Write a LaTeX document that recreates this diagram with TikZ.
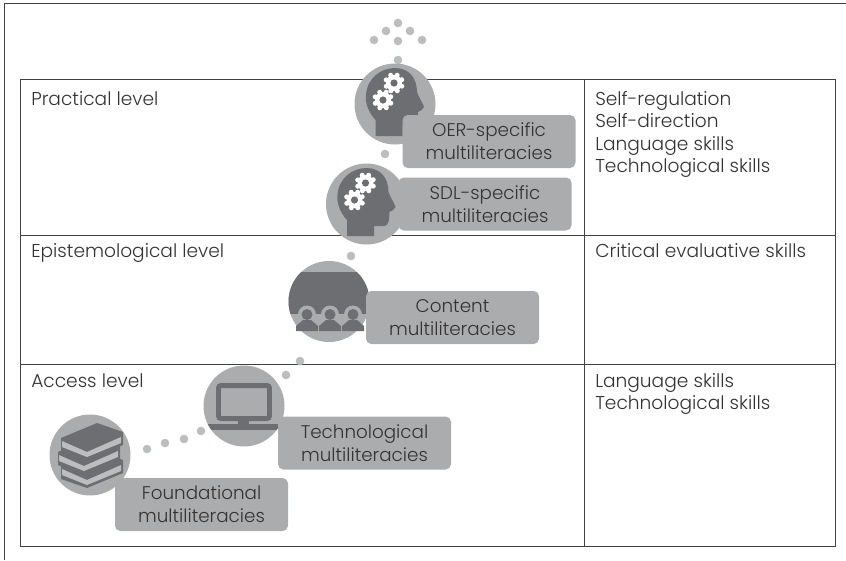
\documentclass[tikz,border=0pt]{standalone}
\usepackage{fontspec}
\setmainfont{Poppins}[UprightFont=* Light]
\definecolor{discgrey}{HTML}{ABACAE}
\definecolor{darkgrey}{HTML}{6D6E71}
\definecolor{dotgrey}{HTML}{BCBDBF}
\definecolor{rulegrey}{HTML}{404143}
\definecolor{textgrey}{HTML}{333333}
\newdimen\pxu
\pxu=0.02646cm
\tikzset{
  levelname/.style={anchor=north west,inner sep=0pt,font=\fontsize{14pt}{16.9pt}\selectfont,text=textgrey,align=left},
  badge/.style={fill=discgrey,rounded corners=4pt,inner sep=0pt,minimum width=173\pxu,minimum height=53\pxu,font=\fontsize{13.8pt}{17.2pt}\selectfont,text=textgrey,align=center},
  disc/.style={circle,fill=discgrey,minimum size=81\pxu,inner sep=0pt},
  dot/.style={circle,fill=dotgrey,minimum size=8.6\pxu,inner sep=0pt},
  tablerule/.style={rulegrey,line width=0.75pt},
}
\newcommand{\headicon}[2]{%
  \begin{scope}[shift={(#1,#2)}]
    \fill[darkgrey] (-19.5,32) -- (-19.5,16) .. controls (-27,8) and (-30,-2) .. (-29,-9)
      .. controls (-28,-26) and (-14,-36) .. (0,-36) .. controls (14,-36) and (22,-26) .. (22,-12)
      .. controls (24,-6) and (28,-1) .. (29,3) .. controls (28,6) and (25,7) .. (23,8)
      .. controls (23,12) and (23,22) .. (18,22) -- (7.5,22) -- (7.5,32) -- cycle;
    \foreach \cx/\cy in {-12/-4,-1/-21}{
      \foreach \ang in {0,45,...,315}{
        \fill[white] ({\cx+8.4*cos(\ang+22)},{\cy+8.4*sin(\ang+22)}) circle (2.5);
      }
      \fill[white] (\cx,\cy) circle (8);
      \fill[darkgrey] (\cx,\cy) circle (3.6);
    }
  \end{scope}}
\begin{document}
\begin{tikzpicture}[x=\pxu,y=-\pxu]
\useasboundingbox (0,0) rectangle (846,560);
\draw[tablerule] (846,3.7) -- (4.3,3.7) -- (4.3,560);
% table
\draw[tablerule] (20.3,79) rectangle (835,546.5);
\draw[tablerule] (20.3,235) -- (835,235);
\draw[tablerule] (20.3,364.3) -- (835,364.3);
\draw[tablerule] (584,79) -- (584,546.5);
\node[levelname] (practical) at (31,91) {Practical level};
\node[levelname] (epistemic) at (31,243.5) {Epistemological level};
\node[levelname] (access) at (31,373) {Access level};
\node[levelname] (skillsa) at (595,91) {Self-regulation\\Self-direction\\Language skills\\Technological skills};
\node[levelname] (skillsb) at (595,243.5) {Critical evaluative skills};
\node[levelname] (skillsc) at (595,373) {Language skills\\Technological skills};
% dots
\foreach \x/\y in {398/23,386/31,410/31,374/40,398/41,422/40,398/60,385/154,351/256,300/361,286/375,
  201/431,184/439,165/443,147/449}{
  \node[dot] at (\x,\y) {};
}
% discs
\node[disc] (booksdisc) at (90,455) {};
\node[disc] (monitordisc) at (244,406) {};
\node[disc] (peopledisc) at (329,301.5) {};
\node[disc] (sdldisc) at (366.5,204) {};
\node[disc] (oerdisc) at (395,104) {};
% books
\foreach \dx/\dy in {0/28,-3/14,0/0}{
  \begin{scope}[shift={(\dx,\dy)}]
    \fill[darkgrey] (61,438) -- (97,423) -- (123,432) -- (123,445) -- (87,460) -- (61,451) -- cycle;
    \fill[dotgrey] (62,441) -- (87,452) -- (121,437) -- (121,443) -- (87,457) -- (62,447) -- cycle;
  \end{scope}
}
% monitor
\draw[darkgrey,line width=3.75pt,rounded corners=2pt] (218.5,385.5) rectangle (269.5,418.5);
\fill[darkgrey] (238,420) rectangle (249,425);
\begin{scope}
  \clip (244,406) circle (40.5);
  \fill[darkgrey] (200,424) rectangle (290,430);
\end{scope}
% people
\begin{scope}
  \clip (329,301.5) circle (40.5);
  \fill[darkgrey] (280,272) rectangle (380,314);
\end{scope}
\foreach \cx in {307,330,353}{
  \fill[discgrey] (\cx,314.5) circle (9);
  \fill[darkgrey] (\cx,314.5) circle (5.5);
  \fill[darkgrey] ({\cx-11},331) -- ({\cx-11},326) -- ({\cx-4},320) -- ({\cx+4},320) -- ({\cx+11},326) -- ({\cx+11},331) -- cycle;
}
% heads
\headicon{395}{104}
\headicon{366.5}{204}
% labels
\node[badge] (oer) at (489,141.5) {OER-specific\\multiliteracies};
\node[badge] (sdl) at (485,204) {SDL-specific\\multiliteracies};
\node[badge] (content) at (452.5,317.5) {Content\\multiliteracies};
\node[badge] (techno) at (364.5,443) {Technological\\multiliteracies};
\node[badge] (found) at (201.5,504.5) {Foundational\\multiliteracies};
\end{tikzpicture}
\end{document}
